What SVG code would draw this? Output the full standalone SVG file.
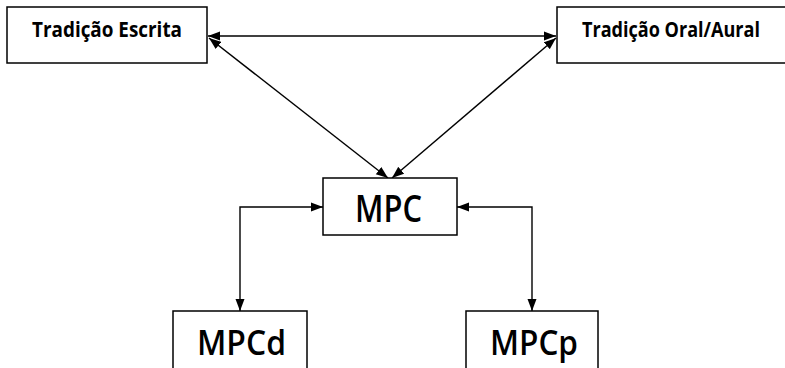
<svg xmlns="http://www.w3.org/2000/svg" width="785" height="368" viewBox="0 0 785 368">
<style>
.box{fill:#fff;stroke:#000;stroke-width:1.5}
.lbl{font-family:"Open Sans","Noto Sans","Liberation Sans",sans-serif;fill:#000}
.top{font-size:21px;font-weight:700}
.big{font-weight:600}
.con{fill:none;stroke:#000;stroke-width:1.4}
</style>
<defs>
<marker id="ah" viewBox="0 0 12 10" refX="12" refY="5" markerWidth="12" markerHeight="10" markerUnits="userSpaceOnUse" orient="auto-start-reverse">
<path d="M0,0.5 L12,5 L0,9.5 Z" fill="#000"/>
</marker>
</defs>
<rect width="785" height="368" fill="#fff"/>
<g id="connectors">
<line class="con" x1="208" y1="36" x2="556" y2="36" marker-start="url(#ah)" marker-end="url(#ah)"/>
<line class="con" x1="209" y1="38" x2="388" y2="178" marker-start="url(#ah)" marker-end="url(#ah)"/>
<line class="con" x1="556" y1="38" x2="392" y2="178" marker-start="url(#ah)" marker-end="url(#ah)"/>
<polyline class="con" points="323,207 240,207 240,311" marker-start="url(#ah)" marker-end="url(#ah)"/>
<polyline class="con" points="457,207 532,207 532,311" marker-start="url(#ah)" marker-end="url(#ah)"/>
</g>
<g id="escrita">
<rect class="box" x="7" y="7" width="200" height="56"/>
<text class="lbl top" x="32" y="37" textLength="150" lengthAdjust="spacingAndGlyphs">Tradição Escrita</text>
</g>
<g id="oral">
<rect class="box" x="557" y="7" width="229" height="56"/>
<text class="lbl top" x="582" y="37" textLength="178" lengthAdjust="spacingAndGlyphs">Tradição Oral/Aural</text>
</g>
<g id="mpc">
<rect class="box" x="323" y="178" width="134" height="57"/>
<text class="lbl big" x="355" y="222" font-size="37" textLength="67" lengthAdjust="spacingAndGlyphs">MPC</text>
</g>
<g id="mpcd">
<rect class="box" x="173" y="311" width="134" height="65"/>
<text class="lbl big" x="197" y="355" font-size="35" textLength="89" lengthAdjust="spacingAndGlyphs">MPCd</text>
</g>
<g id="mpcp">
<rect class="box" x="466" y="311" width="132" height="65"/>
<text class="lbl big" x="490" y="355" font-size="35" textLength="88" lengthAdjust="spacingAndGlyphs">MPCp</text>
</g>
</svg>
